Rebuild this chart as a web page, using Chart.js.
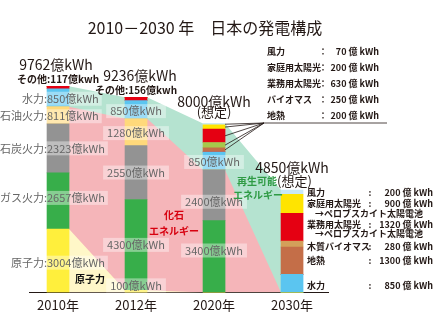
<!DOCTYPE html>
<html lang="ja">
<head>
<meta charset="UTF-8">
<title>日本の発電構成</title>
<script src="https://cdn.jsdelivr.net/npm/chart.js@4"></script>
<style>
  body { margin: 0; background: #fff; }
  .contenedor { width: 438px; height: 328px; }
</style>
</head>
<body>
<div class="contenedor"><canvas id="myChart" width="438" height="328"></canvas></div>
<script>
// datos (億kWh)
const years = ['2010年', '2012年', '2020年', '2030年'];
const nuclear = [3004, 100, 0, 0];
const gas = [2657, 4300, 3400, 0];
const coal = [2323, 2550, 2400, 0];
const oil = [811, 1280, 0, 0];
const hydro = [850, 850, 850, 850];
const other = [117, 156, 0, 0];
const geothermal = [0, 0, 200, 1300];
const biomass = [0, 0, 250, 280];
const solarBiz = [0, 0, 630, 1320];
const solarHome = [0, 0, 200, 900];
const wind = [0, 0, 70, 200];

const FONT = "'Noto Sans CJK JP', 'Noto Sans', sans-serif";
const BAR_HALF = 11 / 78; // media barra en unidades del eje x

const series = [nuclear, gas, coal, oil, hydro, other, geothermal, biomass, solarBiz, solarHome, wind];
const sum = (arrs, i) => arrs.reduce((s, a) => s + a[i], 0);
const totals = years.map((_, i) => sum(series, i));
const fossilTop = years.map((_, i) => sum([nuclear, gas, coal, oil], i));

// puntos entre barras (borde derecho de una, borde izquierdo de la siguiente)
const puente = (valores) => {
    const pts = [];
    valores.forEach((v, i) => {
        if (i > 0) pts.push({ x: i - BAR_HALF, y: v });
        if (i < valores.length - 1) pts.push({ x: i + BAR_HALF, y: v });
    });
    return pts;
};

const puntos = arr => arr.map((v, i) => ({ x: i, y: v }));

const barra = (label, arr, color) => ({
    type: 'bar',
    label: label,
    data: puntos(arr),
    backgroundColor: color,
    stack: 'barras',
    barThickness: 22,
    borderWidth: 0,
    order: 0
});

const area = (label, pts, color, order) => ({
    type: 'line',
    label: label,
    data: pts,
    backgroundColor: color,
    borderWidth: 0,
    pointRadius: 0,
    fill: 'origin',
    stack: label,
    order: order
});

const datasets = [
    barra('原子力', nuclear, '#FFEF3C'),
    barra('ガス火力', gas, '#37AE4A'),
    barra('石炭火力', coal, '#939393'),
    barra('石油火力', oil, '#FFD97B'),
    barra('水力', hydro, '#5BC5F0'),
    barra('その他', other, '#E50012'),
    barra('地熱', geothermal, '#C46E48'),
    barra('バイオマス', biomass, ['#A6C84B', '#A6C84B', '#A6C84B', '#D3A05A']),
    barra('業務用太陽光', solarBiz, '#E50012'),
    barra('家庭用太陽光', solarHome, '#FFE400'),
    barra('風力', wind, '#C8E8F6'),
    area('再生可能', puente(totals), '#B5E3D0', 3),
    area('化石', puente(fossilTop), '#F5B5B9', 2),
    area('原子力面', puente(nuclear), '#FFF7C8', 1)
];

// etiquetas sobre las barras: [serie, año, nombre, dy]
const etiquetasBarras = [
    [hydro, 0, '水力', 1], [oil, 0, '石油火力', 1], [coal, 0, '石炭火力', 0],
    [gas, 0, 'ガス火力', -3], [nuclear, 0, '原子力', 2],
    [hydro, 1, '', 1.5], [oil, 1, '', 1], [coal, 1, '', 0], [gas, 1, '', 0], [nuclear, 1, '', -6],
    [hydro, 2, '', 1], [coal, 2, '', 6.5], [gas, 2, '', -6]
];

const leyenda2020 = [['風力', wind], ['家庭用太陽光', solarHome], ['業務用太陽光', solarBiz], ['バイオマス', biomass], ['地熱', geothermal]];
const leyenda2030 = [
    ['風力', wind, 193], ['家庭用太陽光', solarHome, 204, '→ペロブスカイト太陽電池'],
    ['業務用太陽光', solarBiz, 224.5, '→ペロブスカイト太陽電池'], ['木質バイオマス', biomass, 247],
    ['地熱', geothermal, 260.5], ['水力', hydro, 285.5]
];

const texto = (ctx, t, x, y, font, color, align) => {
    ctx.font = font;
    ctx.fillStyle = color;
    ctx.textAlign = align || 'center';
    ctx.textBaseline = 'middle';
    ctx.fillText(t, x, y);
};

const dibujos = {
    id: 'dibujos',
    afterDatasetsDraw(chart) {
        const { ctx, scales: { x, y } } = chart;
        ctx.save();

        // titulo
        texto(ctx, '2010－2030 年　日本の発電構成', 205, 28, `16px ${FONT}`, '#231815');

        // etiquetas de valores con caja translucida
        etiquetasBarras.forEach(([arr, i, nombre, dy]) => {
            const el = chart.getDatasetMeta(series.indexOf(arr)).data[i];
            const cy = (el.y + el.base) / 2 + dy;
            const valor = `${arr[i]}億kWh`;
            ctx.font = `11px ${FONT}`;
            if (nombre) {
                const borde = el.x - el.width / 2;
                const izq = ctx.measureText(nombre + ':').width;
                const der = ctx.measureText(valor).width;
                ctx.fillStyle = 'rgba(255,255,255,0.4)';
                ctx.fillRect(borde - izq - 2, cy - 7, izq + der + 5, 14);
                texto(ctx, nombre + ':', borde, cy, `11px ${FONT}`, '#666', 'right');
                texto(ctx, valor, borde, cy, `11px ${FONT}`, '#666', 'left');
            } else {
                const w = ctx.measureText(valor).width;
                ctx.fillStyle = 'rgba(255,255,255,0.4)';
                ctx.fillRect(el.x - w / 2 - 4, cy - 7, w + 8, 14);
                texto(ctx, valor, el.x, cy, `11px ${FONT}`, '#666');
            }
        });

        // totales encima de cada barra
        totals.forEach((t, i) => {
            const px = x.getPixelForValue(i);
            const py = y.getPixelForValue(t);
            texto(ctx, `${t}億kWh`, px - (i === 0 ? 2 : 0) + (i === 1 ? 4 : 0), py - 22, `14px ${FONT}`, '#231815');
            if (other[i] > 0) {
                texto(ctx, `その他:${other[i]}億kwh`, px, py - 7, `bold 10px ${FONT}`, '#231815');
            }
        });
        texto(ctx, '(想定)', x.getPixelForValue(2), y.getPixelForValue(totals[2]) - 11, `13px ${FONT}`, '#231815');
        texto(ctx, '(想定)', 277, 181, `13px ${FONT}`, '#231815', 'left');

        // textos de las areas
        texto(ctx, '再生可能', 277, 181, `bold 10px ${FONT}`, '#2F9B45', 'right');
        texto(ctx, 'エネルギー', 258, 195, `bold 10px ${FONT}`, '#2F9B45');
        texto(ctx, '化石', 174, 215, `bold 10px ${FONT}`, '#D7000F');
        texto(ctx, 'エネルギー', 174, 231, `bold 10px ${FONT}`, '#D7000F');
        texto(ctx, '原子力', 90, 279, `bold 10px ${FONT}`, '#111');

        // leyenda 2020 con lineas guia
        const ink = '#231815';
        ctx.strokeStyle = ink;
        ctx.lineWidth = 0.8;
        leyenda2020.forEach(([nombre, arr], k) => {
            const ly = 52 + 16 * k;
            texto(ctx, nombre, 267, ly, `bold 9px ${FONT}`, ink, 'left');
            texto(ctx, '：', 323, ly, `bold 9px ${FONT}`, ink);
            texto(ctx, `${arr[2]} 億 kWh`, 379, ly, `bold 9px ${FONT}`, ink, 'right');
            const el = chart.getDatasetMeta(series.indexOf(arr)).data[2];
            ctx.beginPath();
            ctx.moveTo(el.x + el.width / 2, (el.y + el.base) / 2);
            ctx.lineTo(264, 123);
            ctx.stroke();
        });
        ctx.beginPath();
        ctx.moveTo(264, 123);
        ctx.lineTo(387, 123);
        ctx.stroke();

        // leyenda 2030
        leyenda2030.forEach(([nombre, arr, ly, sub]) => {
            texto(ctx, nombre, 307, ly, `bold 9px ${FONT}`, ink, 'left');
            texto(ctx, ':', 370, ly, `bold 9px ${FONT}`, ink);
            texto(ctx, `${arr[3]} 億 kWh`, 433, ly, `bold 9px ${FONT}`, ink, 'right');
            if (sub) texto(ctx, sub, 315, ly + 9.5, `bold 9px ${FONT}`, ink, 'left');
        });

        ctx.restore();
    }
};

const ctx = document.getElementById('myChart');

new Chart(ctx, {
    type: 'bar',
    data: { datasets: datasets },
    options: {
        responsive: false,
        animation: false,
        layout: { padding: { left: 29, right: 110, top: 39, bottom: 10 } },
        plugins: {
            legend: { display: false },
            tooltip: { enabled: false }
        },
        scales: {
            x: {
                type: 'linear',
                min: -0.372,
                max: 3.461,
                offset: false,
                stacked: true,
                grid: { display: false, drawTicks: false, offset: false },
                border: { display: true, color: '#231815', width: 1 },
                ticks: {
                    stepSize: 1,
                    includeBounds: false,
                    padding: 5,
                    maxRotation: 0,
                    color: '#231815',
                    font: { size: 13, family: FONT },
                    callback: v => years[v] || ''
                }
            },
            y: {
                display: false,
                stacked: true,
                min: 0,
                max: 12000
            }
        }
    },
    plugins: [dibujos]
});
</script>
</body>
</html>
